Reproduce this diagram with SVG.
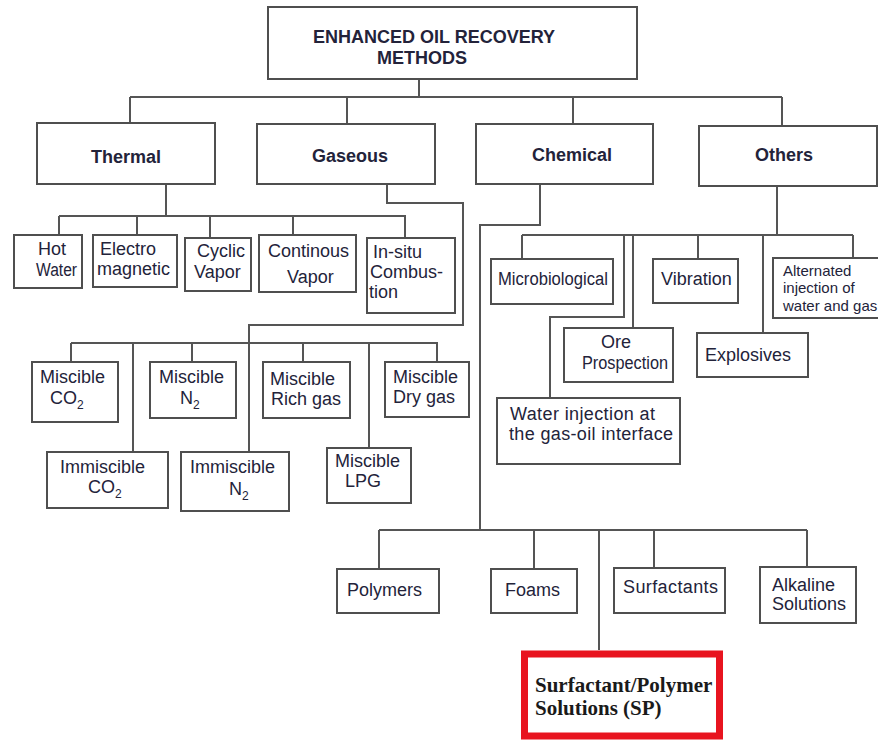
<svg xmlns="http://www.w3.org/2000/svg" width="878" height="740" viewBox="0 0 878 740">
<style>
.box{fill:#fff;stroke:#4f4f4f;stroke-width:2}
.cn{fill:none;stroke:#555;stroke-width:2}
text{font-family:"Liberation Sans",Arial,sans-serif;fill:#23233a}
.h{font-size:18px;font-weight:bold}
.t{font-size:18px}
.s{font-size:15px}
.sub{font-size:12px}
.sp{font-family:"Liberation Serif","Times New Roman",serif;font-size:21px;font-weight:bold;fill:#1a1a1a}
</style>
<rect width="878" height="740" fill="#fff"/>
<g id="connectors" class="cn">
<path d="M419 79V97M130 97H782M130 97V123M347 97V124M573 97V124M782 97V126"/>
<path d="M166 184V216M59 216H406M59 216V235M137 216V235M210 216V238M293 216V235M405 216V238"/>
<path d="M387 184V203H463V325H249V452M71 343H438M71 343V362M133 343V452M192 343V362M303 343V362M369 343V448M437 343V362"/>
<path d="M540 184V225H480V530M379 530H807M379 530V569M534 530V569M599 530V650M654 530V568M807 530V567"/>
<path d="M777 186V235M522 235H853M522 235V259M624 235V317H550V398M633 235V328M698 235V259M763 235V333M853 235V258"/>
</g>
<g id="root"><rect class="box" x="268" y="7" width="369" height="72"/><text class="h" x="313" y="43">ENHANCED OIL RECOVERY</text><text class="h" x="377" y="64">METHODS</text></g>
<g id="thermal"><rect class="box" x="37" y="123" width="178" height="61"/><text class="h" x="126" y="163" text-anchor="middle">Thermal</text></g>
<g id="gaseous"><rect class="box" x="257" y="124" width="178" height="60"/><text class="h" x="350" y="162" text-anchor="middle">Gaseous</text></g>
<g id="chemical"><rect class="box" x="476" y="124" width="177" height="60"/><text class="h" x="572" y="161" text-anchor="middle">Chemical</text></g>
<g id="others"><rect class="box" x="699" y="126" width="178" height="60"/><text class="h" x="784" y="161" text-anchor="middle">Others</text></g>

<g id="hot-water"><rect class="box" x="14" y="235" width="68" height="53"/><text class="t" x="38" y="255">Hot</text><text class="t" x="36" y="276" textLength="41" lengthAdjust="spacingAndGlyphs">Water</text></g>
<g id="electromagnetic"><rect class="box" x="93" y="235" width="84" height="52"/><text class="t" x="100" y="255">Electro</text><text class="t" x="97" y="275">magnetic</text></g>
<g id="cyclic-vapor"><rect class="box" x="185" y="238" width="66" height="53"/><text class="t" x="197" y="257">Cyclic</text><text class="t" x="194" y="278">Vapor</text></g>
<g id="continous-vapor"><rect class="box" x="259" y="235" width="97" height="57"/><text class="t" x="268" y="257">Continous</text><text class="t" x="287" y="283">Vapor</text></g>
<g id="in-situ-combustion"><rect class="box" x="367" y="238" width="88" height="75"/><text class="t" x="373" y="258">In-situ</text><text class="t" x="370" y="278">Combus-</text><text class="t" x="369" y="298">tion</text></g>

<g id="miscible-co2"><rect class="box" x="32" y="362" width="86" height="60"/><text class="t" x="40" y="383">Miscible</text><text class="t" x="50" y="404">CO<tspan class="sub" dy="5">2</tspan></text></g>
<g id="miscible-n2"><rect class="box" x="150" y="362" width="86" height="56"/><text class="t" x="159" y="383">Miscible</text><text class="t" x="180" y="404">N<tspan class="sub" dy="5">2</tspan></text></g>
<g id="miscible-rich-gas"><rect class="box" x="263" y="362" width="87" height="56"/><text class="t" x="270" y="385">Miscible</text><text class="t" x="271" y="405">Rich gas</text></g>
<g id="miscible-dry-gas"><rect class="box" x="385" y="362" width="84" height="55"/><text class="t" x="393" y="383">Miscible</text><text class="t" x="393" y="403">Dry gas</text></g>
<g id="immiscible-co2"><rect class="box" x="47" y="452" width="121" height="56"/><text class="t" x="60" y="473">Immiscible</text><text class="t" x="88" y="493">CO<tspan class="sub" dy="5">2</tspan></text></g>
<g id="immiscible-n2"><rect class="box" x="181" y="452" width="108" height="59"/><text class="t" x="190" y="473">Immiscible</text><text class="t" x="229" y="495">N<tspan class="sub" dy="5">2</tspan></text></g>
<g id="miscible-lpg"><rect class="box" x="327" y="448" width="84" height="55"/><text class="t" x="335" y="467">Miscible</text><text class="t" x="345" y="487">LPG</text></g>

<g id="microbiological"><rect class="box" x="491" y="259" width="122" height="45"/><text class="t" x="498" y="285" textLength="110" lengthAdjust="spacingAndGlyphs">Microbiological</text></g>
<g id="vibration"><rect class="box" x="653" y="259" width="85" height="44"/><text class="t" x="661" y="285">Vibration</text></g>
<g id="alternated-injection"><rect class="box" x="773" y="258" width="110" height="60"/><text class="s" x="783" y="276">Alternated</text><text class="s" x="783" y="293">injection of</text><text class="s" x="783" y="311">water and gas</text></g>
<g id="ore-prospection"><rect class="box" x="564" y="328" width="109" height="54"/><text class="t" x="601" y="348">Ore</text><text class="t" x="582" y="369" textLength="86" lengthAdjust="spacingAndGlyphs">Prospection</text></g>
<g id="explosives"><rect class="box" x="697" y="333" width="111" height="44"/><text class="t" x="705" y="361">Explosives</text></g>
<g id="water-injection"><rect class="box" x="497" y="398" width="183" height="66"/><text class="t" x="510" y="420" textLength="145">Water injection at</text><text class="t" x="509" y="440" textLength="164">the gas-oil interface</text></g>

<g id="polymers"><rect class="box" x="337" y="569" width="102" height="44"/><text class="t" x="347" y="596">Polymers</text></g>
<g id="foams"><rect class="box" x="491" y="569" width="86" height="44"/><text class="t" x="505" y="596">Foams</text></g>
<g id="surfactants"><rect class="box" x="614" y="568" width="111" height="45"/><text class="t" x="623" y="593" textLength="95">Surfactants</text></g>
<g id="alkaline-solutions"><rect class="box" x="760" y="567" width="96" height="56"/><text class="t" x="772" y="591">Alkaline</text><text class="t" x="772" y="610">Solutions</text></g>
<g id="surfactant-polymer"><rect x="524.5" y="654" width="195" height="82" fill="#fff" stroke="#e8141f" stroke-width="7"/><text class="sp" x="535" y="692">Surfactant/Polymer</text><text class="sp" x="535" y="715">Solutions (SP)</text></g>
</svg>
